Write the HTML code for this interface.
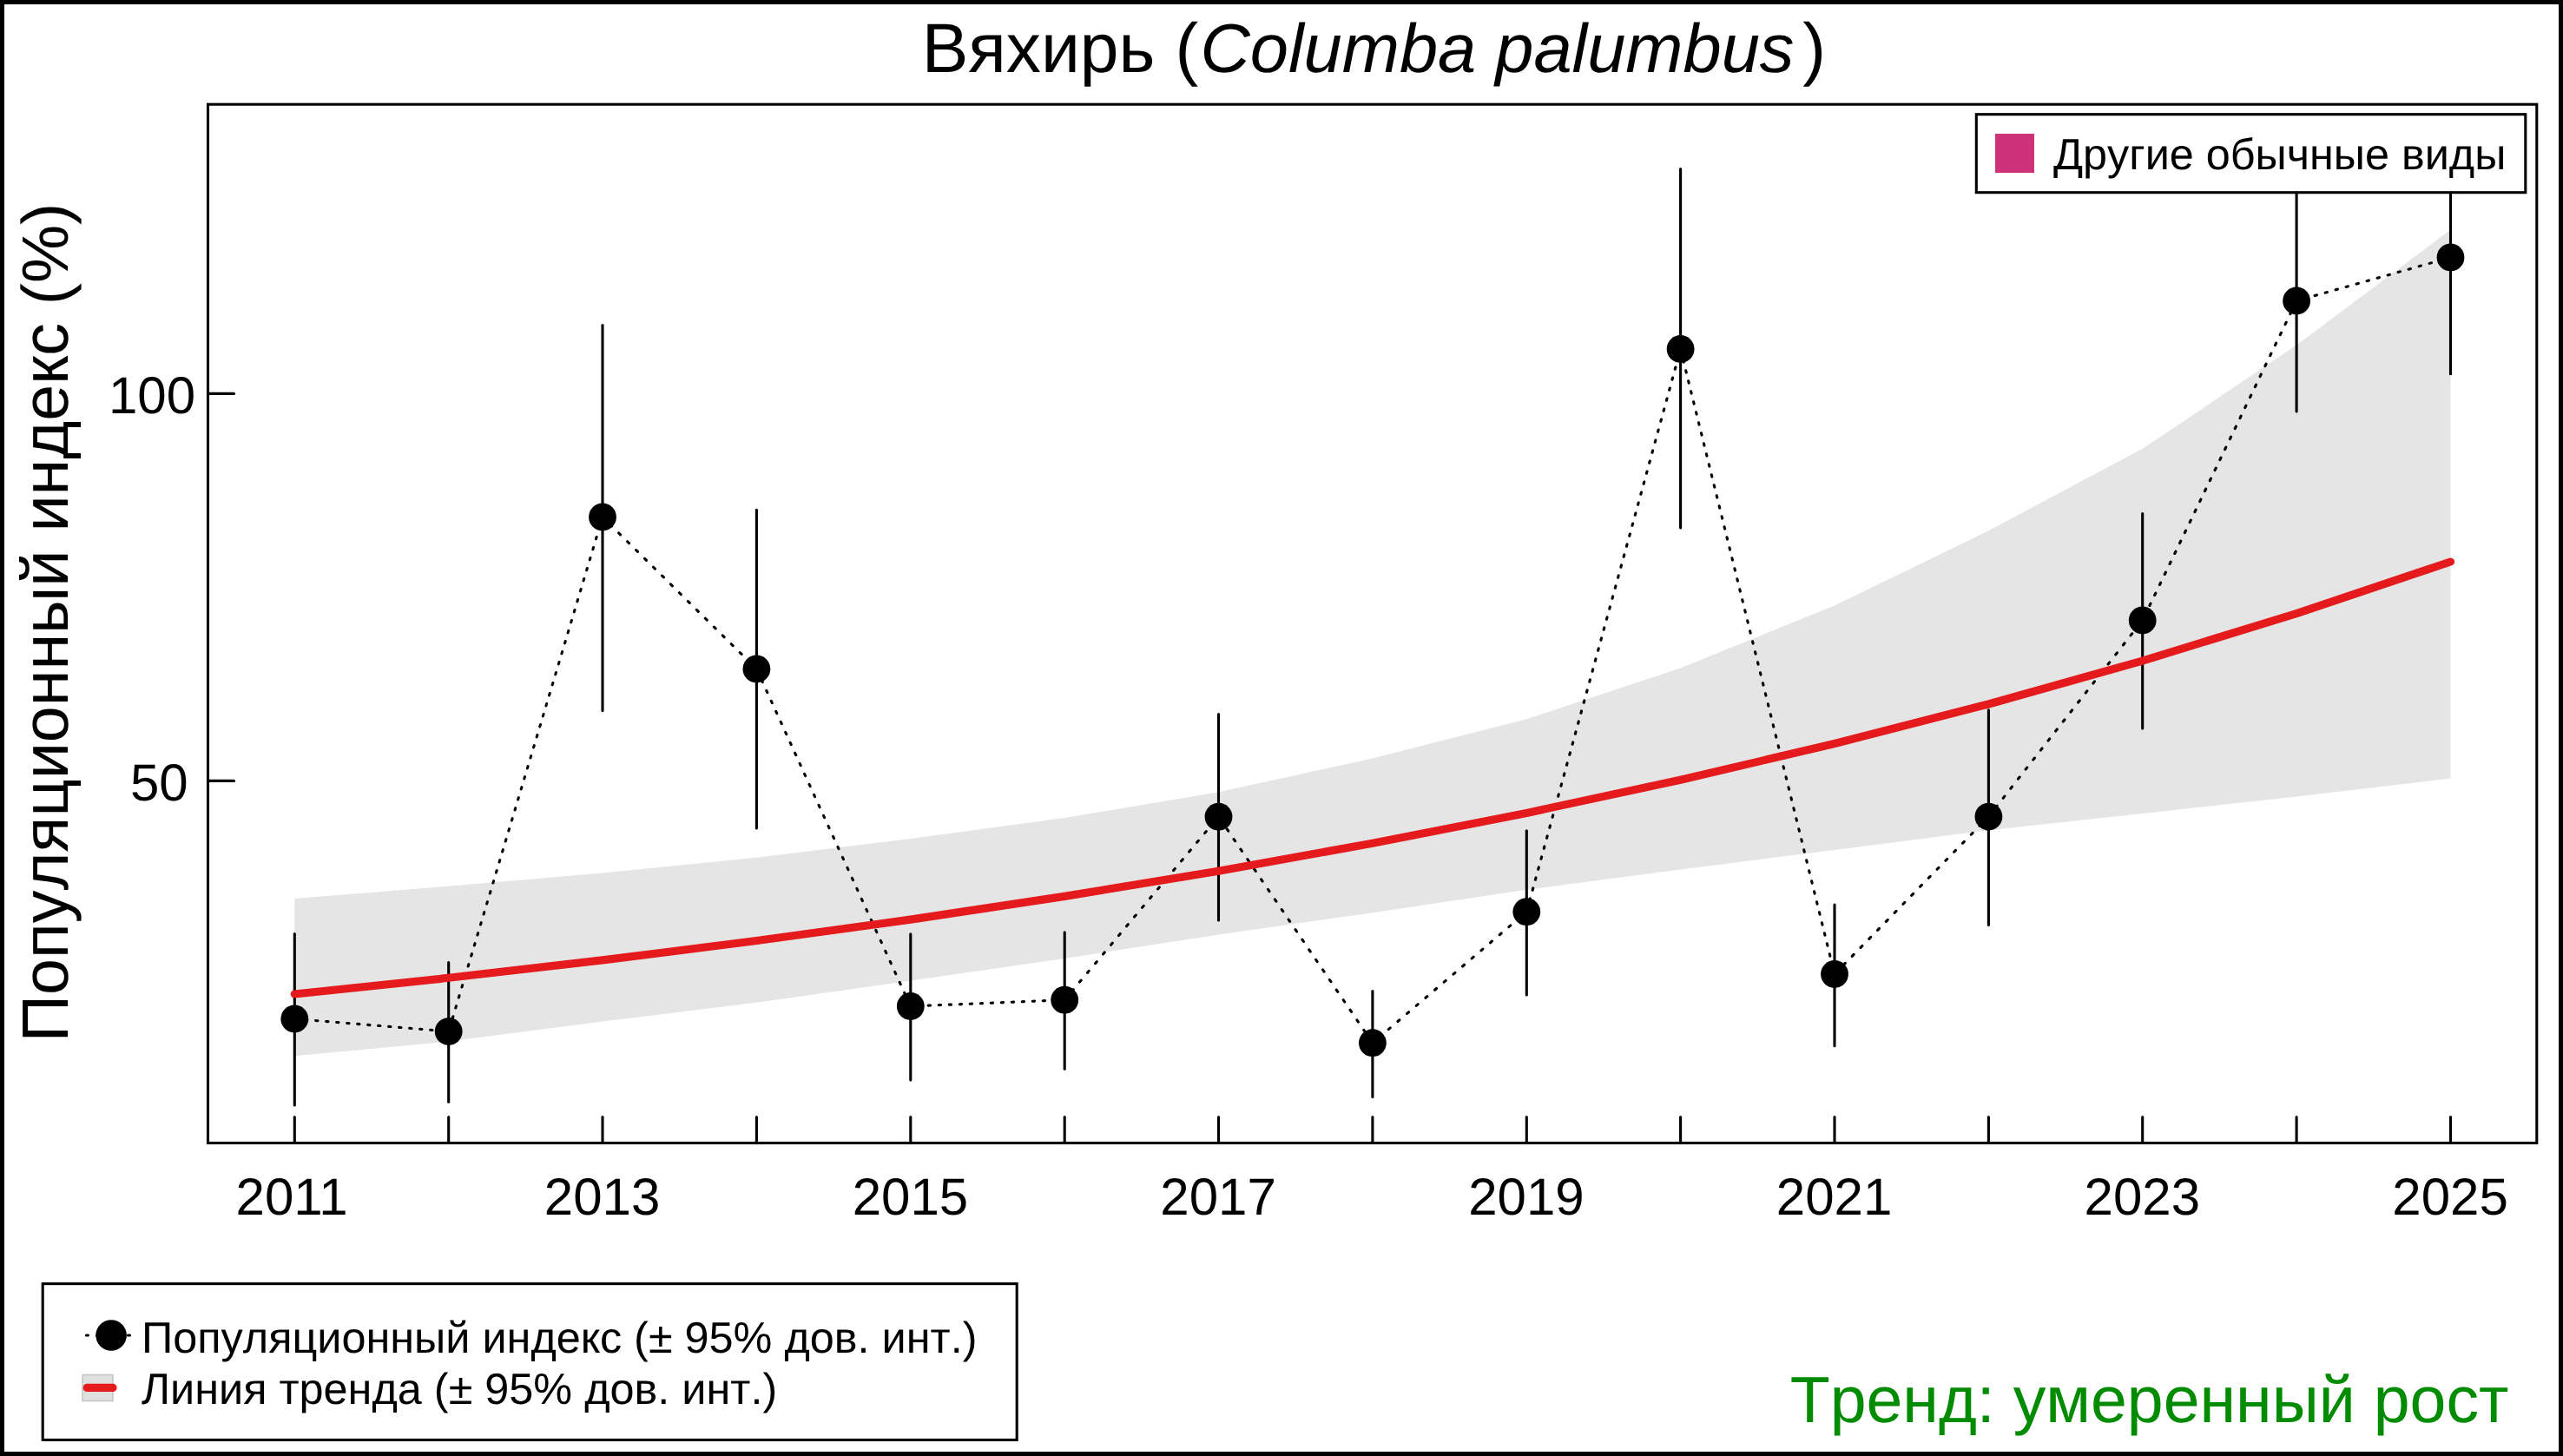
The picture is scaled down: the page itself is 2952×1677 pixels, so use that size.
<!DOCTYPE html>
<html><head><meta charset="utf-8"><title>chart</title>
<style>
html,body{margin:0;padding:0;background:#fff;}
body{width:2952px;height:1677px;overflow:hidden;}
svg{display:block;}
text{font-family:"Liberation Sans",sans-serif;fill:#000;font-kerning:none;font-feature-settings:"kern" 0,"liga" 0;text-rendering:geometricPrecision;}
.k text{font-kerning:normal;font-feature-settings:"kern" 1;}
</style></head><body>
<svg width="2952" height="1677" viewBox="0 0 2952 1677">
<rect x="0" y="0" width="2952" height="1677" fill="#fff"/>
<!-- ribbon -->
<polygon points="339.3,1035.0 516.7,1020.8 694.0,1005.4 871.4,987.8 1048.8,966.0 1226.2,942.0 1403.5,912.3 1580.9,873.6 1758.3,828.2 1935.6,769.5 2113.0,697.5 2290.4,611.3 2467.7,516.8 2645.1,397.6 2822.5,264.5 2822.5,896.6 2645.1,917.4 2467.7,937.0 2290.4,956.3 2113.0,979.0 1935.6,1001.4 1758.3,1024.8 1580.9,1051.2 1403.5,1076.4 1226.2,1103.9 1048.8,1129.6 871.4,1154.8 694.0,1176.6 516.7,1199.6 339.3,1216.2" fill="#E5E5E5"/>
<!-- plot box -->
<rect x="239.5" y="120.2" width="2682.3" height="1196.3" fill="none" stroke="#000" stroke-width="3.1"/>
<!-- ticks -->
<g stroke="#000" stroke-width="3.1" stroke-linecap="round"><line x1="339.3" y1="1316.5" x2="339.3" y2="1286.5"/><line x1="516.7" y1="1316.5" x2="516.7" y2="1286.5"/><line x1="694.0" y1="1316.5" x2="694.0" y2="1286.5"/><line x1="871.4" y1="1316.5" x2="871.4" y2="1286.5"/><line x1="1048.8" y1="1316.5" x2="1048.8" y2="1286.5"/><line x1="1226.2" y1="1316.5" x2="1226.2" y2="1286.5"/><line x1="1403.5" y1="1316.5" x2="1403.5" y2="1286.5"/><line x1="1580.9" y1="1316.5" x2="1580.9" y2="1286.5"/><line x1="1758.3" y1="1316.5" x2="1758.3" y2="1286.5"/><line x1="1935.6" y1="1316.5" x2="1935.6" y2="1286.5"/><line x1="2113.0" y1="1316.5" x2="2113.0" y2="1286.5"/><line x1="2290.4" y1="1316.5" x2="2290.4" y2="1286.5"/><line x1="2467.7" y1="1316.5" x2="2467.7" y2="1286.5"/><line x1="2645.1" y1="1316.5" x2="2645.1" y2="1286.5"/><line x1="2822.5" y1="1316.5" x2="2822.5" y2="1286.5"/>
<line x1="239.5" y1="453.4" x2="269.5" y2="453.4"/><line x1="239.5" y1="899.4" x2="269.5" y2="899.4"/></g>
<!-- axis labels -->
<g font-size="60" class="k"><text x="336.1" y="1399" text-anchor="middle">2011</text><text x="693.6" y="1399" text-anchor="middle">2013</text><text x="1048.4" y="1399" text-anchor="middle">2015</text><text x="1403.1" y="1399" text-anchor="middle">2017</text><text x="1757.9" y="1399" text-anchor="middle">2019</text><text x="2112.6" y="1399" text-anchor="middle">2021</text><text x="2467.3" y="1399" text-anchor="middle">2023</text><text x="2822.1" y="1399" text-anchor="middle">2025</text>
<text x="124.9" y="475.8">100</text><text x="149.9" y="921.6">50</text></g>
<!-- error bars -->
<g stroke="#000" stroke-width="3.1" stroke-linecap="round"><line x1="339.3" y1="1075.5" x2="339.3" y2="1272.9"/><line x1="516.7" y1="1108.5" x2="516.7" y2="1269.2"/><line x1="694.0" y1="374.5" x2="694.0" y2="818.6"/><line x1="871.4" y1="587.3" x2="871.4" y2="954.0"/><line x1="1048.8" y1="1075.7" x2="1048.8" y2="1243.9"/><line x1="1226.2" y1="1073.8" x2="1226.2" y2="1231.2"/><line x1="1403.5" y1="822.6" x2="1403.5" y2="1060.0"/><line x1="1580.9" y1="1141.6" x2="1580.9" y2="1263.4"/><line x1="1758.3" y1="956.8" x2="1758.3" y2="1146.0"/><line x1="1935.6" y1="194.6" x2="1935.6" y2="608.0"/><line x1="2113.0" y1="1042.0" x2="2113.0" y2="1204.8"/><line x1="2290.4" y1="817.8" x2="2290.4" y2="1065.4"/><line x1="2467.7" y1="591.6" x2="2467.7" y2="838.9"/><line x1="2645.1" y1="150.0" x2="2645.1" y2="473.9"/><line x1="2822.5" y1="150.0" x2="2822.5" y2="430.8"/></g>
<!-- dotted line -->
<g fill="none" stroke="#000" stroke-width="3.1" stroke-linecap="round"><line x1="339.3" y1="1173.5" x2="516.7" y2="1188.0" stroke-dasharray="2.31 9.73" stroke-dashoffset="-0.35"/><line x1="516.7" y1="1188.0" x2="694.0" y2="595.5" stroke-dasharray="2.40 10.13" stroke-dashoffset="9.42"/><line x1="694.0" y1="595.5" x2="871.4" y2="770.5" stroke-dasharray="2.68 11.32" stroke-dashoffset="1.77"/><line x1="871.4" y1="770.5" x2="1048.8" y2="1159.0" stroke-dasharray="2.53 10.66" stroke-dashoffset="12.19"/><line x1="1048.8" y1="1159.0" x2="1226.2" y2="1151.7" stroke-dasharray="2.30 9.71" stroke-dashoffset="3.60"/><line x1="1226.2" y1="1151.7" x2="1403.5" y2="940.7" stroke-dasharray="2.68 11.32" stroke-dashoffset="1.12"/><line x1="1403.5" y1="940.7" x2="1580.9" y2="1201.2" stroke-dasharray="2.68 11.32" stroke-dashoffset="10.77"/><line x1="1580.9" y1="1201.2" x2="1758.3" y2="1050.2" stroke-dasharray="2.68 11.32" stroke-dashoffset="3.92"/><line x1="1758.3" y1="1050.2" x2="1935.6" y2="402.0" stroke-dasharray="2.38 10.06" stroke-dashoffset="11.43"/><line x1="1935.6" y1="402.0" x2="2113.0" y2="1122.0" stroke-dasharray="2.37 9.99" stroke-dashoffset="11.56"/><line x1="2113.0" y1="1122.0" x2="2290.4" y2="940.6" stroke-dasharray="2.68 11.32" stroke-dashoffset="13.10"/><line x1="2290.4" y1="940.6" x2="2467.7" y2="714.5" stroke-dasharray="2.68 11.32" stroke-dashoffset="0.80"/><line x1="2467.7" y1="714.5" x2="2645.1" y2="346.5" stroke-dasharray="2.55 10.77" stroke-dashoffset="7.77"/><line x1="2645.1" y1="346.5" x2="2822.5" y2="296.5" stroke-dasharray="2.39 10.08" stroke-dashoffset="3.12"/></g>
<!-- points -->
<g fill="#000"><circle cx="339.3" cy="1173.5" r="15.9"/><circle cx="516.7" cy="1188.0" r="15.9"/><circle cx="694.0" cy="595.5" r="15.9"/><circle cx="871.4" cy="770.5" r="15.9"/><circle cx="1048.8" cy="1159.0" r="15.9"/><circle cx="1226.2" cy="1151.7" r="15.9"/><circle cx="1403.5" cy="940.7" r="15.9"/><circle cx="1580.9" cy="1201.2" r="15.9"/><circle cx="1758.3" cy="1050.2" r="15.9"/><circle cx="1935.6" cy="402.0" r="15.9"/><circle cx="2113.0" cy="1122.0" r="15.9"/><circle cx="2290.4" cy="940.6" r="15.9"/><circle cx="2467.7" cy="714.5" r="15.9"/><circle cx="2645.1" cy="346.5" r="15.9"/><circle cx="2822.5" cy="296.5" r="15.9"/></g>
<!-- trend -->
<polyline points="339.3,1145.0 516.7,1126.3 694.0,1105.9 871.4,1083.5 1048.8,1059.1 1226.2,1032.4 1403.5,1003.2 1580.9,971.3 1758.3,936.4 1935.6,898.3 2113.0,856.5 2290.4,811.0 2467.7,761.1 2645.1,706.6 2822.5,647.0" fill="none" stroke="#E41A1C" stroke-width="9.2" stroke-linecap="round" stroke-linejoin="round"/>
<!-- title -->
<g font-size="80.35"><text x="1061.7" y="82.9">Вяхирь</text><text x="1353.5" y="82.9">(</text><text x="1382.5" y="82.9" font-style="italic" font-size="79.4">Columba palumbus</text><text x="2076.2" y="82.9">)</text></g>
<!-- y label -->
<text font-size="75.45" text-anchor="middle" transform="translate(78.1 717) rotate(-90)">Популяционный индекс (%)</text>
<!-- top-right legend -->
<rect x="2276.3" y="131.7" width="632.5" height="90" fill="#fff" stroke="#000" stroke-width="3.1"/>
<rect x="2298" y="154" width="45" height="45" fill="#CD3278"/>
<text x="2365" y="194.6" font-size="50.35">Другие обычные виды</text>
<!-- bottom-left legend -->
<rect x="49.2" y="1478.6" width="1122" height="179.9" fill="#fff" stroke="#000" stroke-width="3.1"/>
<line x1="99.5" y1="1538" x2="158" y2="1538" stroke="#000" stroke-width="3.1" stroke-dasharray="2 10" stroke-linecap="round"/>
<circle cx="128.1" cy="1538" r="17.8" fill="#000"/>
<rect x="95" y="1583.5" width="35" height="30" fill="#E0E0E0" stroke="#C4C4C4" stroke-width="1.5"/>
<line x1="100.3" y1="1598.4" x2="129.9" y2="1598.4" stroke="#E41A1C" stroke-width="9.4" stroke-linecap="round"/>
<g font-size="50.4"><text x="163" y="1557.5">Популяционный индекс (± 95% дов. инт.)</text>
<text x="163" y="1616.7">Линия тренда (± 95% дов. инт.)</text></g>
<!-- trend text -->
<text x="2889.5" y="1637.8" font-size="75.25" text-anchor="end" style="fill:#008B00">Тренд: умеренный рост</text>
<!-- outer border -->
<rect x="2.5" y="2.5" width="2947" height="1672" fill="none" stroke="#000" stroke-width="5"/>
</svg>
</body></html>
